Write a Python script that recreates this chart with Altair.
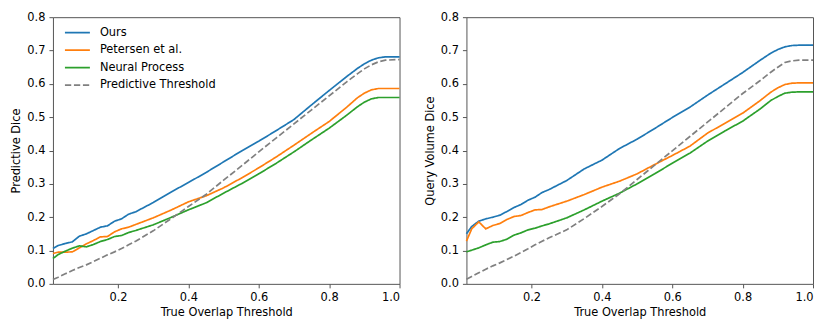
import altair as alt
import pandas as pd

# Shared x grid (True Overlap Threshold)
x_grid = [0.015, 0.03, 0.05, 0.07, 0.09, 0.11, 0.13, 0.15, 0.17, 0.19, 0.21, 0.23, 0.25,
          0.3, 0.35, 0.4, 0.45, 0.5, 0.55, 0.6, 0.65, 0.7, 0.75, 0.8, 0.85, 0.88, 0.9,
          0.92, 0.94, 0.96, 1.0]

series_names = ["Ours", "Petersen et al.", "Neural Process", "Predictive Threshold"]
series_colors = ["#1f77b4", "#ff7f0e", "#2ca02c", "#808080"]

# Left panel: Predictive Dice
left_ours = [0.106, 0.115, 0.121, 0.126, 0.143, 0.150, 0.160, 0.170, 0.174, 0.188, 0.195, 0.209, 0.216,
             0.244, 0.275, 0.304, 0.334, 0.366, 0.398, 0.428, 0.460, 0.493, 0.537, 0.580, 0.622, 0.646,
             0.660, 0.671, 0.678, 0.681, 0.681]
left_petersen = [0.091, 0.095, 0.095, 0.096, 0.108, 0.120, 0.130, 0.141, 0.142, 0.156, 0.165, 0.170, 0.178,
                 0.198, 0.221, 0.246, 0.264, 0.288, 0.317, 0.348, 0.381, 0.416, 0.452, 0.487, 0.530, 0.558,
                 0.572, 0.582, 0.586, 0.586, 0.586]
left_np = [0.076, 0.088, 0.098, 0.107, 0.114, 0.111, 0.118, 0.127, 0.133, 0.142, 0.145, 0.154, 0.160,
           0.177, 0.199, 0.222, 0.243, 0.272, 0.300, 0.330, 0.362, 0.396, 0.432, 0.467, 0.506, 0.531,
           0.545, 0.555, 0.559, 0.559, 0.559]
left_threshold = [0.013, 0.020, 0.030, 0.040, 0.049, 0.057, 0.067, 0.077, 0.087, 0.096, 0.106, 0.117, 0.128,
                  0.159, 0.195, 0.232, 0.268, 0.311, 0.353, 0.396, 0.438, 0.480, 0.522, 0.564, 0.606, 0.630,
                  0.645, 0.657, 0.666, 0.671, 0.673]

# Right panel: Query Volume Dice
right_ours = [0.150, 0.172, 0.188, 0.195, 0.200, 0.206, 0.217, 0.229, 0.238, 0.251, 0.260, 0.274, 0.283,
              0.310, 0.345, 0.371, 0.406, 0.434, 0.466, 0.499, 0.530, 0.566, 0.600, 0.634, 0.671, 0.692,
              0.703, 0.711, 0.715, 0.716, 0.716]
right_petersen = [0.128, 0.165, 0.186, 0.165, 0.175, 0.181, 0.193, 0.202, 0.205, 0.214, 0.222, 0.223, 0.231,
                  0.248, 0.268, 0.290, 0.308, 0.330, 0.358, 0.385, 0.413, 0.452, 0.482, 0.512, 0.550, 0.575,
                  0.588, 0.598, 0.602, 0.603, 0.603]
right_np = [0.096, 0.101, 0.108, 0.117, 0.125, 0.127, 0.134, 0.146, 0.153, 0.162, 0.167, 0.174, 0.180,
            0.198, 0.222, 0.248, 0.272, 0.300, 0.330, 0.362, 0.392, 0.428, 0.459, 0.488, 0.525, 0.550,
            0.562, 0.572, 0.575, 0.576, 0.576]
right_threshold = [0.014, 0.022, 0.033, 0.044, 0.054, 0.063, 0.073, 0.083, 0.094, 0.105, 0.117, 0.128, 0.138,
                   0.162, 0.196, 0.232, 0.270, 0.313, 0.356, 0.399, 0.442, 0.485, 0.528, 0.571, 0.610, 0.635,
                   0.650, 0.664, 0.669, 0.671, 0.671]

# Half-widths of the shaded uncertainty bands
left_ours_band = [0.020, 0.016, 0.012, 0.010, 0.008, 0.006, 0.005, 0.005, 0.004, 0.004, 0.004, 0.003, 0.003,
                  0.003, 0.003, 0.003, 0.003, 0.003, 0.003, 0.003, 0.003, 0.003, 0.003, 0.003, 0.003, 0.003,
                  0.003, 0.003, 0.003, 0.003, 0.003]
left_petersen_band = [0.012, 0.011, 0.010, 0.008, 0.006, 0.005, 0.004, 0.004, 0.004, 0.003, 0.003, 0.003, 0.003,
                      0.003, 0.003, 0.003, 0.003, 0.003, 0.003, 0.003, 0.003, 0.003, 0.003, 0.003, 0.003, 0.003,
                      0.003, 0.003, 0.003, 0.003, 0.003]
left_np_band = [0.018, 0.012, 0.008, 0.006, 0.005, 0.004, 0.004, 0.003, 0.003, 0.003, 0.003, 0.003, 0.003,
                0.003, 0.003, 0.003, 0.003, 0.003, 0.003, 0.003, 0.003, 0.003, 0.003, 0.003, 0.003, 0.003,
                0.003, 0.003, 0.003, 0.003, 0.003]
right_ours_band = [0.035, 0.025, 0.020, 0.015, 0.012, 0.010, 0.008, 0.006, 0.005, 0.005, 0.004, 0.004, 0.003,
                   0.003, 0.003, 0.003, 0.003, 0.003, 0.003, 0.003, 0.003, 0.003, 0.003, 0.003, 0.003, 0.003,
                   0.003, 0.003, 0.003, 0.003, 0.003]
right_petersen_band = [0.030, 0.020, 0.015, 0.012, 0.010, 0.008, 0.006, 0.005, 0.005, 0.004, 0.004, 0.003, 0.003,
                       0.003, 0.003, 0.003, 0.003, 0.003, 0.003, 0.003, 0.003, 0.003, 0.003, 0.003, 0.003, 0.003,
                       0.003, 0.003, 0.003, 0.003, 0.003]
right_np_band = [0.025, 0.020, 0.015, 0.010, 0.008, 0.006, 0.005, 0.004, 0.004, 0.003, 0.003, 0.003, 0.003,
                 0.003, 0.003, 0.003, 0.003, 0.003, 0.003, 0.003, 0.003, 0.003, 0.003, 0.003, 0.003, 0.003,
                 0.003, 0.003, 0.003, 0.003, 0.003]
no_band = [0.0] * len(x_grid)

x_ticks = [0.2, 0.4, 0.6, 0.8, 1.0]
y_ticks = [0.0, 0.1, 0.2, 0.3, 0.4, 0.5, 0.6, 0.7, 0.8]

FONT = "DejaVu Sans"
FS = 11.4


def build_frame(series_values, series_bands):
    rows = []
    for name, vals, band in zip(series_names, series_values, series_bands):
        for i, (xv, yv) in enumerate(zip(x_grid, vals)):
            rows.append({"series": name, "x": xv, "y": yv,
                         "lo": yv - band[i], "hi": yv + band[i], "idx": i})
    return pd.DataFrame(rows)


def panel(df, ytitle, show_legend):
    x_enc = alt.X("x:Q", scale=alt.Scale(domain=[0.015, 1.0], nice=False, zero=False),
                  axis=alt.Axis(values=x_ticks, format=".1f", title="True Overlap Threshold"))
    y_axis = alt.Axis(values=y_ticks, format=".1f", title=ytitle)
    y_scale = alt.Scale(domain=[0.0, 0.8], nice=False, zero=False)
    if show_legend:
        leg = alt.Legend(title=None, orient="none", legendX=17, legendY=8,
                         symbolType="M-2,0H2", symbolSize=156, symbolStrokeWidth=1.7,
                         symbolOpacity=1,
                         labelFont=FONT, labelFontSize=FS, labelColor="black",
                         rowPadding=4.5, labelOffset=15, padding=0)
    else:
        leg = None
    color = alt.Color("series:N", scale=alt.Scale(domain=series_names, range=series_colors),
                      legend=leg, sort=series_names)
    dash = alt.StrokeDash("series:N",
                          scale=alt.Scale(domain=series_names,
                                          range=[[1, 0], [1, 0], [1, 0], [6.3, 2.7]]),
                          legend=leg, sort=series_names)
    area = alt.Chart(df).transform_filter(
        alt.datum.series != "Predictive Threshold"
    ).mark_area(opacity=0.22, interpolate="linear").encode(
        x=x_enc,
        y=alt.Y("lo:Q", scale=y_scale, axis=y_axis),
        y2="hi:Q",
        color=color,
        order="idx:Q",
    )
    line = alt.Chart(df).mark_line(strokeWidth=1.7).encode(
        x=x_enc,
        y=alt.Y("y:Q", scale=y_scale, axis=y_axis),
        color=color,
        strokeDash=dash,
        order="idx:Q",
    )
    return alt.layer(area, line).properties(width=347, height=267)


left_df = build_frame([left_ours, left_petersen, left_np, left_threshold],
                      [left_ours_band, left_petersen_band, left_np_band, no_band])
right_df = build_frame([right_ours, right_petersen, right_np, right_threshold],
                       [right_ours_band, right_petersen_band, right_np_band, no_band])

left = panel(left_df, "Predictive Dice", True)
right = panel(right_df, "Query Volume Dice", False)

chart = alt.hconcat(left, right, spacing=20).resolve_scale(
    color="independent", strokeDash="independent"
).properties(
    padding={"left": 2, "top": 2, "right": 5, "bottom": 5}
).configure_view(
    stroke="#555555", strokeWidth=1
).configure_axis(
    grid=False, domain=False,
    tickColor="#555555", tickSize=4, tickWidth=1,
    labelColor="black", titleColor="black",
    labelFont=FONT, titleFont=FONT,
    labelFontSize=FS, titleFontSize=FS, titleFontWeight="normal",
    labelPadding=4, titlePadding=3,
).configure_axisY(titlePadding=5)

chart.save("out.html", embed_options={"renderer": "svg", "actions": False})
